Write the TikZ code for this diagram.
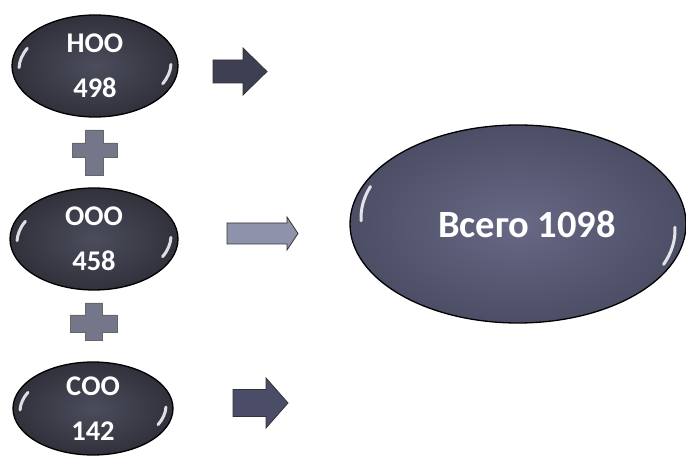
\documentclass[tikz,border=0pt]{standalone}
\usepackage{fontspec}
\setmainfont{Carlito}
\usetikzlibrary{shapes.geometric}
\definecolor{ovin}{HTML}{4C4D5C}
\definecolor{ovout}{HTML}{30313B}
\definecolor{bigin}{HTML}{676985}
\definecolor{bigout}{HTML}{4C4E66}
\definecolor{arrdark}{HTML}{3E3F52}
\definecolor{arrlight}{HTML}{8E92AA}
\definecolor{arrmid}{HTML}{4A4C68}
\definecolor{plusc}{HTML}{74768A}
\begin{document}
\begin{tikzpicture}[x=1pt,y=-1pt,
  oval/.style={ellipse, draw=black, line width=1.3pt, inner sep=0pt,
    text=white, align=center, inner color=ovin, outer color=ovout,
    font=\bfseries\fontsize{28.5}{45}\selectfont},
  bigoval/.style={oval, inner color=bigin, outer color=bigout,
    font=\bfseries\fontsize{38.5}{44}\selectfont},
  shine/.style={white, line width=3pt, line cap=round, opacity=0.85},
  arrowshape/.style={draw=black!80, line width=0.8pt, line join=miter},
  plusshape/.style={fill=plusc, draw=black!60, line width=0.7pt}]
\useasboundingbox (0,0) rectangle (686,457);

% small ovals
\node[oval, minimum width=166pt, minimum height=102pt] (noo) at (95,66) {НОО\\498};
\node[oval, minimum width=168pt, minimum height=102pt] (ooo) at (94,239) {ООО\\458};
\node[oval, minimum width=160pt, minimum height=93pt] (soo) at (93,408.5) {СОО\\142};
% big oval
\node[bigoval, minimum width=336pt, minimum height=198pt] (total) at (518,224) {\hspace*{18pt}Всего 1098};

% highlights
\foreach \n/\a/\b in {noo/76/46, ooo/77/46, soo/73/42}{
  \draw[shine] ([shift={(182:\a pt and \b pt)}]\n.center) arc[start angle=182, end angle=207, x radius=\a, y radius=\b];
  \draw[shine] ([shift={(2:\a pt and \b pt)}]\n.center) arc[start angle=2, end angle=27, x radius=\a, y radius=\b];
}
\draw[shine] ([shift={(178:157pt and 91pt)}]total.center) arc[start angle=178, end angle=200, x radius=157, y radius=91];
\draw[shine] ([shift={(-2:157pt and 91pt)}]total.center) arc[start angle=-2, end angle=22, x radius=157, y radius=91];

% arrows
\fill[arrdark, arrowshape] (213,60)--(243,60)--(243,48)--(267,71.5)--(243,95)--(243,83)--(213,83)--cycle;
\fill[arrlight, arrowshape] (227,223)--(287,223)--(287,217)--(298,233.5)--(287,250)--(287,244)--(227,244)--cycle;
\fill[arrmid, arrowshape] (233,389.5)--(266,389.5)--(266,378)--(288,403)--(266,428)--(266,416.5)--(233,416.5)--cycle;

% plus signs
\path[plusshape] (85,130)--(103,130)--(103,143)--(117,143)--(117,157)--(103,157)--(103,175)--(85,175)--(85,157)--(72,157)--(72,143)--(85,143)--cycle;
\path[plusshape] (85,303)--(102,303)--(102,315)--(117,315)--(117,332)--(102,332)--(102,340)--(85,340)--(85,332)--(70,332)--(70,315)--(85,315)--cycle;
\end{tikzpicture}
\end{document}
